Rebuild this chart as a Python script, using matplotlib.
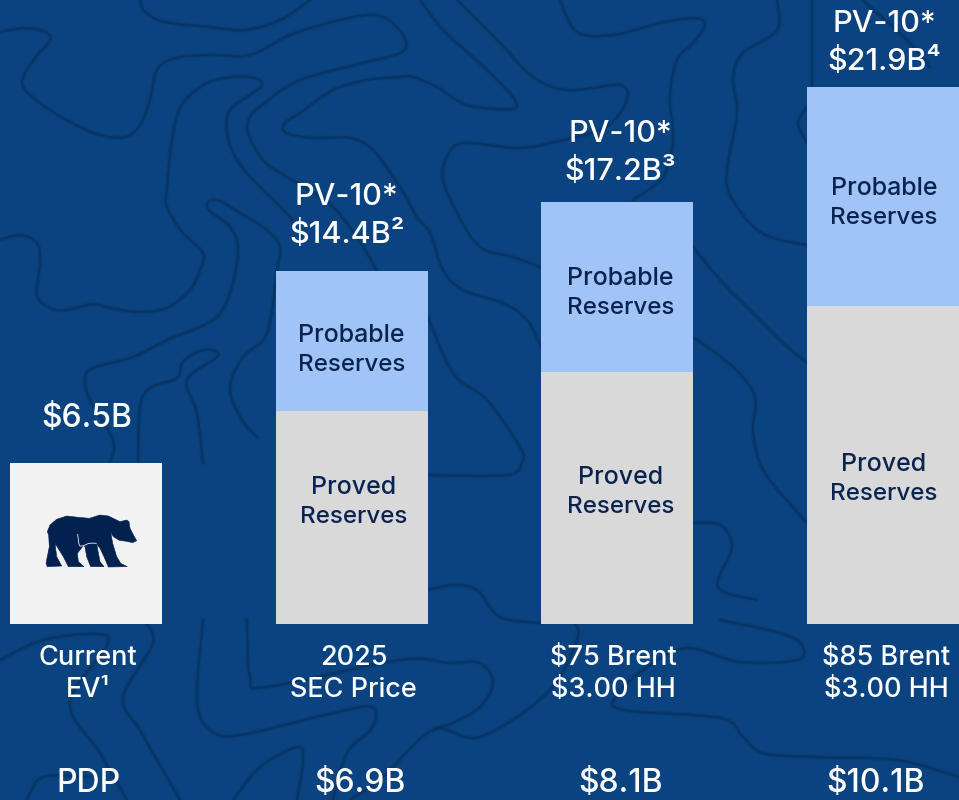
import matplotlib
matplotlib.use("Agg")
import matplotlib.pyplot as plt
from matplotlib.path import Path
from matplotlib.patches import PathPatch, Polygon

plt.rcParams['font.family'] = ['Inter', 'DejaVu Sans']

categories = ['Current\nEV¹', '2025\nSEC Price', '$75 Brent\n$3.00 HH', '$85 Brent\n$3.00 HH']
current_ev = 6.57
proved = [8.7, 10.3, 13.0]
probable = [5.7, 6.92, 8.9]
top_labels = ['$6.5B', 'PV-10*\n$14.4B²', 'PV-10*\n$17.2B³', 'PV-10*\n$21.9B⁴']
pdp_labels = ['PDP', '$6.9B', '$8.1B', '$10.1B']

BG = '#0a4380'
LINE = '#06294f'
WHITE = '#ffffff'
NAVY = '#0a2350'

# curvas de nivel del fondo, en pixeles de la imagen
contours = [
    [(0,32),(25,28),(45,32),(50,40),(35,58),(24,75),(24,88),(40,103),(70,122),(100,135),(125,137),(140,125),(150,100),(157,70),(175,58),(210,55),(250,55),(290,35),(340,20),(375,15),(395,25),(406,42),(400,53),(367,62),(300,80),(262,105),(250,117),(248,133),(263,160),(287,177),(333,207),(367,253),(385,290),(405,330)],
    [(140,0),(145,12),(165,22),(210,27),(245,30),(280,20),(310,0)],
    [(420,0),(443,30),(473,57),(497,80),(515,100),(511,109),(467,105),(437,87),(413,77),(400,77),(367,80),(333,90),(300,113),(285,123),(284,131),(296,136),(317,138),(350,138),(373,150),(400,187),(417,217),(430,233),(443,270),(463,290),(503,303),(527,320),(541,347)],
    [(0,240),(20,235),(37,243),(40,263),(37,295),(50,308),(67,310),(93,304),(110,308),(140,312),(167,308),(190,290),(200,270),(203,253),(183,233),(167,207),(167,187),(173,133),(183,103),(207,83),(233,77),(255,78),(262,85),(250,95),(230,110),(227,133),(237,160),(260,187),(277,203),(293,220)],
    [(257,437),(240,417),(230,387),(243,357),(267,333),(277,270),(280,247),(267,230),(240,213),(220,201),(209,201),(209,210),(230,227),(238,250),(230,293),(213,320),(167,340),(133,357),(93,368),(85,380),(90,400),(113,440),(110,463)],
    [(138,463),(140,407),(150,388),(177,378),(182,363),(197,352),(212,350),(217,357),(187,380),(197,413),(203,463)],
    [(457,0),(500,43),(533,77),(567,90),(613,85),(624,87),(628,95),(620,113),(600,130),(550,143),(517,148),(463,143),(447,157),(443,180),(457,213),(480,247),(513,257),(540,267)],
    [(560,0),(577,32),(613,35),(660,23),(695,18),(705,25),(693,43),(677,60),(670,97),(673,140),(663,177),(633,200)],
    [(777,0),(777,30),(743,53),(733,77),(737,113),(728,163),(728,190),(747,220),(770,237),(807,245)],
    [(807,107),(798,123),(807,143)],
    [(812,0),(812,87)],
    [(863,0),(885,20),(907,40),(930,67)],
    [(693,247),(723,283),(757,317),(783,343),(807,363)],
    [(693,337),(733,367),(755,397),(753,433),(765,473),(807,523)],
    [(693,523),(720,525),(732,547),(718,587),(757,600)],
    [(720,620),(780,633),(802,645),(797,660),(740,662),(687,648),(647,667),(617,695),(623,710),(720,718),(743,737),(763,753),(813,757),(897,760),(959,777)],
    [(573,620),(577,640),(547,693),(480,737),(433,730),(383,777),(350,800)],
    [(428,317),(453,373),(487,400),(520,447),(522,462),(507,475),(428,475)],
    [(428,590),(453,585),(477,590),(500,617),(541,623)],
    [(143,620),(153,643),(123,697),(140,730),(157,760),(180,800)],
    [(0,660),(43,640),(95,634),(107,645),(70,703),(100,753),(127,800)],
    [(27,800),(43,777),(90,777)],
    [(203,620),(197,700),(210,730),(240,735),(333,713),(372,707),(372,728),(347,753),(333,800)],
    [(247,620),(250,677),(267,687),(400,660),(450,663),(480,663),(493,683),(480,707),(455,722),(435,728)],
    [(233,800),(260,767),(297,747),(303,760),(297,800)],
]

# silueta del oso, en pixeles de la imagen
bear_shape = [(410,482),(398,488),(380,484),(358,481),(340,470),(332,456),(338,490),(350,530),(362,550),(382,560),(325,561),(312,530),(300,505),(290,492),(300,545),(312,560),(272,560),(260,530),(255,500),(250,497),(232,520),(235,545),(252,560),(205,560),(190,530),(165,490),(170,530),(185,558),(142,560),(138,550),(148,500),(146,465),(142,455),(150,435),(170,418),(200,408),(235,412),(268,415),(300,405),(325,408),(360,425),(380,420),(387,425),(390,445),(403,470)]
bear_highlight = [(233,462),(238,495),(250,497),(268,490),(290,490)]


def curva_suave(puntos):
    # Catmull-Rom pasado a bezier para que matplotlib dibuje la curva
    verts = [puntos[0]]
    codes = [Path.MOVETO]
    for i in range(len(puntos) - 1):
        p0 = puntos[max(i - 1, 0)]
        p1 = puntos[i]
        p2 = puntos[i + 1]
        p3 = puntos[min(i + 2, len(puntos) - 1)]
        c1 = (p1[0] + (p2[0] - p0[0]) / 6, p1[1] + (p2[1] - p0[1]) / 6)
        c2 = (p2[0] - (p3[0] - p1[0]) / 6, p2[1] - (p3[1] - p1[1]) / 6)
        verts += [c1, c2, p2]
        codes += [Path.CURVE4, Path.CURVE4, Path.CURVE4]
    return Path(verts, codes)


fig = plt.figure(figsize=(9.59, 8), dpi=100, facecolor=BG)

# fondo
bg = fig.add_axes([0, 0, 1, 1], zorder=0)
bg.set_xlim(0, 959)
bg.set_ylim(800, 0)
bg.axis('off')
for c in contours:
    p = curva_suave(c)
    bg.add_patch(PathPatch(p, fc='none', ec=LINE, lw=3.6, alpha=0.12, capstyle='round'))
    bg.add_patch(PathPatch(p, fc='none', ec=LINE, lw=1.7, alpha=0.45, capstyle='round'))

# barras: 24.5 px por $B, base en y=624
SCALE = 24.5
ax = fig.add_axes([0, 0, 1, 1], zorder=1)
ax.patch.set_alpha(0)
step = 265.67
ax.set_xlim(-86 / step, (959 - 86) / step)
ax.set_ylim(-(800 - 624) / SCALE, 624 / SCALE)
ax.axis('off')
width = 152 / step

ax.bar([0], [current_ev], width=width, color='#f2f2f2')
xs = [1, 2, 3]
ax.bar(xs, proved, width=width, color='#d9d9d9')
ax.bar(xs, probable, bottom=proved, width=width, color='#a0c4f6')


def texto(i, dx, dy, s, size, color):
    # dx, dy en pixeles desde el pie de la barra
    ax.annotate(s, xy=(i, 0), xytext=(dx, dy), textcoords='offset pixels',
                ha='center', va='baseline', fontsize=size, color=color, fontweight='medium')


# etiquetas sobre las barras (linea de base en pixeles sobre la base)
top_base = [[197], [381, 419], [444, 482], [554, 592]]
top_dx = [1, -5, 3, 1]
top_size = [23, 22, 22, 22]
for i, lab in enumerate(top_labels):
    lineas = lab.split('\n')
    lineas.reverse()
    for s, dy in zip(lineas, top_base[i]):
        texto(i, top_dx[i], dy, s, top_size[i], WHITE)

# etiquetas dentro de las barras
prob_base = [282, 339, 429]
prob_dx = [0, 3, 1]
prov_base = [130, 140, 153]
prov_dx = [2, 3, 1]
for j, i in enumerate(xs):
    texto(i, prob_dx[j], prob_base[j], 'Probable', 18, NAVY)
    texto(i, prob_dx[j], prob_base[j] - 29, 'Reserves', 17.4, NAVY)
    texto(i, prov_dx[j], prov_base[j], 'Proved', 18, NAVY)
    texto(i, prov_dx[j], prov_base[j] - 29, 'Reserves', 17.4, NAVY)

# etiquetas de categoria y fila PDP
cat_dx = [2, 2, -4, 3]
pdp_dx = [2, 8, 3, -7]
for i, lab in enumerate(categories):
    l1, l2 = lab.split('\n')
    texto(i, cat_dx[i], -41, l1, 19.5, WHITE)
    texto(i, cat_dx[i], -73, l2, 19.5, WHITE)
    texto(i, pdp_dx[i], -168, pdp_labels[i], 23, WHITE)

# oso
over = fig.add_axes([0, 0, 1, 1], zorder=2)
over.patch.set_alpha(0)
over.set_xlim(0, 959)
over.set_ylim(800, 0)
over.axis('off')
bear = [(x / 3, 380 + y / 3) for x, y in bear_shape]
over.add_patch(Polygon(bear, closed=True, fc='#02214f', ec='#02214f', lw=0.4))
over.add_patch(PathPatch(curva_suave([(x / 3, 380 + y / 3) for x, y in bear_highlight]),
                         fc='none', ec='#f2f2f2', lw=0.6))

fig.savefig('out.png', dpi=100, facecolor=BG)
